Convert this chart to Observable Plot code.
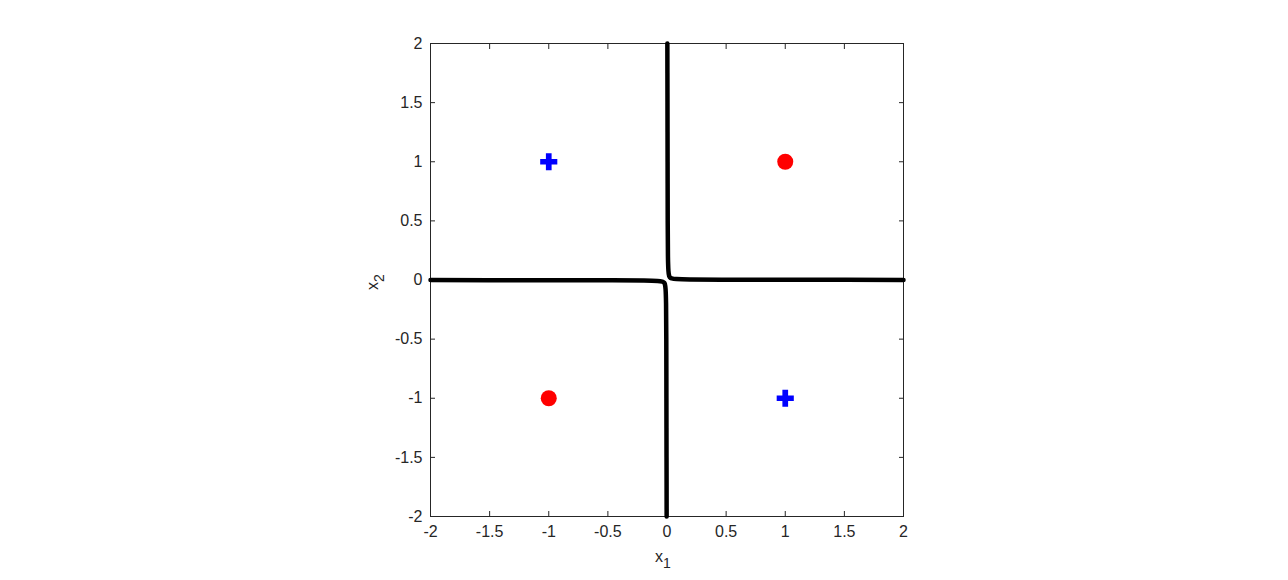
<!DOCTYPE html>
<html><head><meta charset="utf-8">
<script src="https://cdn.jsdelivr.net/npm/d3@7"></script>
<script src="https://cdn.jsdelivr.net/npm/@observablehq/plot@0.6"></script>
<style>
html,body{margin:0;padding:0;background:#fff;}
svg{font-family:Arial,"Liberation Sans",sans-serif;}
svg g[aria-label$="tick label"]{font-size:16px !important;}
svg g[aria-label$="tick label"] text{font-size:16px !important;}
</style></head>
<body><div id="chart"></div>
<script>
// Class points
const circleX = [1, -1];
const circleY = [1, -1];
const plusX = [-1, 1];
const plusY = [1, -1];
// Decision boundary, upper-right branch
const branch1X = [0.003, 0.004, 0.005, 0.006, 0.008, 0.012, 0.018, 0.025, 0.04, 0.08, 0.2, 0.5, 1, 2];
const branch1Y = [2, 1.5, 1, 0.5, 0.2, 0.08, 0.035, 0.022, 0.014, 0.008, 0.005, 0.003, 0.002, 0.001];
// lower-left branch
const branch2X = [-2, -1, -0.5, -0.2, -0.08, -0.04, -0.025, -0.018, -0.012, -0.008, -0.006, -0.005, -0.004, -0.003];
const branch2Y = [-0.001, -0.002, -0.003, -0.005, -0.008, -0.014, -0.022, -0.035, -0.08, -0.2, -0.5, -1, -1.5, -2];
const ticks = [-2, -1.5, -1, -0.5, 0, 0.5, 1, 1.5, 2];

const circles = circleX.map((x, i) => ({x, y: circleY[i]}));
const pluses = plusX.map((x, i) => ({x, y: plusY[i]}));
const b1 = branch1X.map((x, i) => ({x, y: branch1Y[i]}));
const b2 = branch2X.map((x, i) => ({x, y: branch2Y[i]}));
const fmt = d => String(d);

const ink = "#262626";
const fs = 16;
const plot = Plot.plot({
  width: 1288, height: 580,
  marginLeft: 430, marginRight: 385, marginTop: 43, marginBottom: 64,
  style: {fontSize: fs + "px", fontFamily: "Arial, 'Liberation Sans', sans-serif", color: ink, background: "#fff"},
  x: {domain: [-2, 2], label: null},
  y: {domain: [-2, 2], label: null},
  marks: [
    Plot.frame({stroke: ink, strokeWidth: 1}),
    Plot.axisX({anchor: "bottom", ticks, tickFormat: fmt, tickSize: -5, tickPadding: 14, stroke: ink, fontSize: fs, fill: ink}),
    Plot.axisX({anchor: "top", ticks, tickSize: -5, text: null, stroke: ink}),
    Plot.axisY({anchor: "left", ticks, tickFormat: fmt, tickSize: -5, tickPadding: 13, stroke: ink, fontSize: fs, fill: ink}),
    Plot.axisY({anchor: "right", ticks, tickSize: -5, text: null, stroke: ink}),
    Plot.line(b1, {x: "x", y: "y", stroke: "black", strokeWidth: 4.5, curve: "monotone-x"}),
    Plot.line(b2, {x: "x", y: "y", stroke: "black", strokeWidth: 4.5, curve: "monotone-x"}),
    Plot.dot(circles, {x: "x", y: "y", r: 8, fill: "red", stroke: "none"}),
    Plot.dot(pluses, {x: "x", y: "y", r: 7.2, symbol: "cross", fill: "blue", stroke: "none"}),
    Plot.text([0], {frameAnchor: "bottom", dy: 45, dx: -12, text: () => "x", fontSize: 16, fill: ink, textAnchor: "start", className: "xlab"}),
    Plot.text([0], {frameAnchor: "left", dx: -58, dy: 10, text: () => "x", fontSize: 16, fill: ink, rotate: -90, textAnchor: "start", className: "ylab"})
  ]
});
document.getElementById("chart").appendChild(plot);
// add subscripts to axis labels
d3.select(plot).selectAll(".xlab text").each(function(){
  const t = d3.select(this); t.text("x");
  t.append("tspan").attr("dy", "0.45em").attr("font-size", 14).text("1");
});
d3.select(plot).selectAll(".ylab text").each(function(){
  const t = d3.select(this); t.text("x");
  t.append("tspan").attr("dy", "0.45em").attr("font-size", 14).text("2");
});
</script></body></html>
